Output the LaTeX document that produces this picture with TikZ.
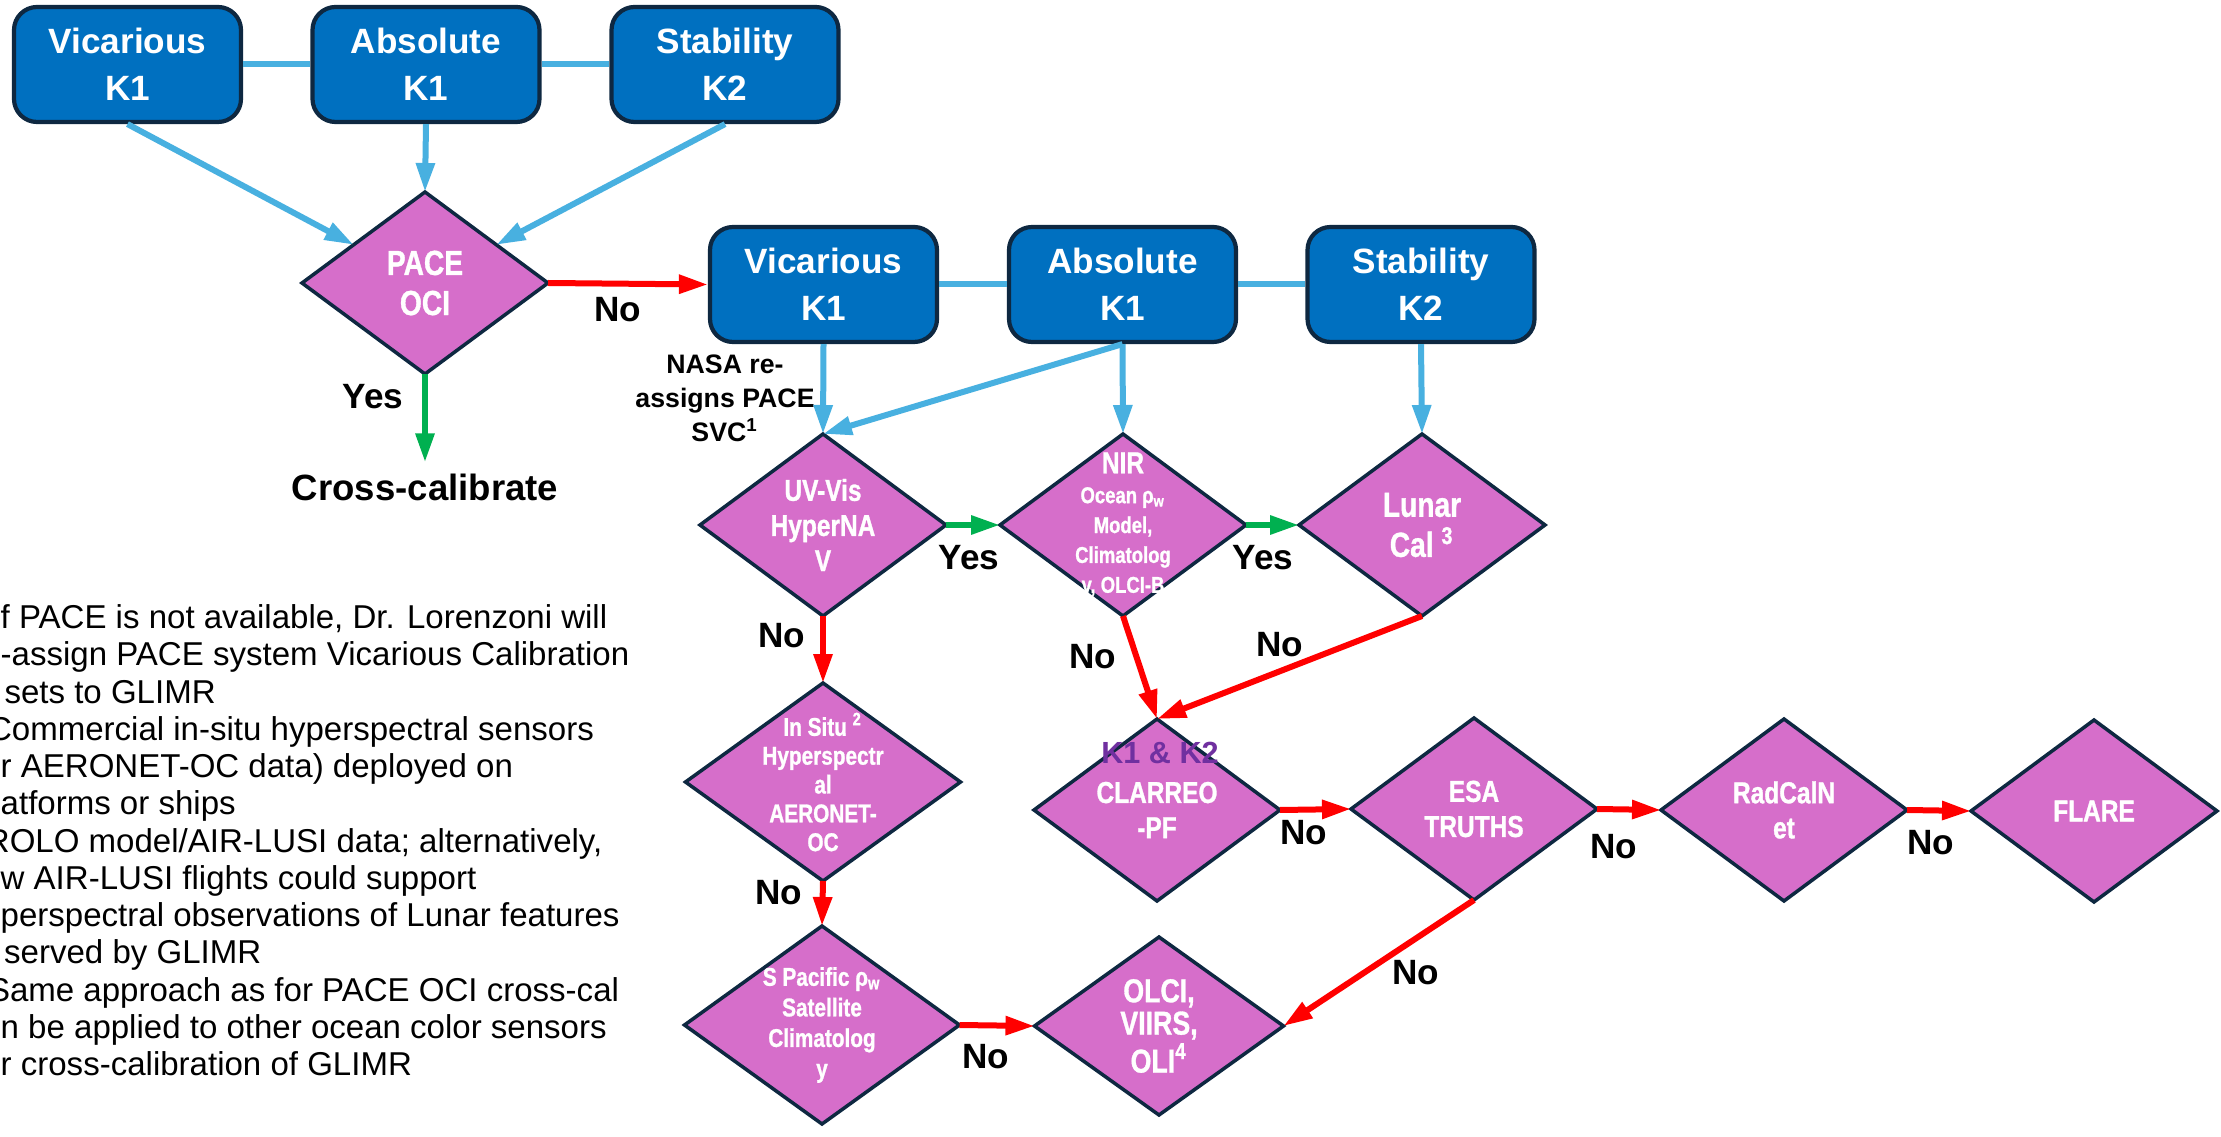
\documentclass[tikz,border=0pt]{standalone}
\usepackage{fontspec}
\setmainfont{Liberation Sans}
\newfontfamily\diafont[FakeStretch=0.81, FakeBold=1]{Liberation Sans}
\usepackage{tikz}
\usetikzlibrary{shapes.geometric, arrows.meta, calc}
\definecolor{boxblue}{RGB}{0, 112, 192}
\definecolor{boxline}{RGB}{14, 40, 65}
\definecolor{checkcol}{RGB}{214, 110, 202}
\definecolor{linkcol}{RGB}{72, 176, 224}
\definecolor{nocol}{RGB}{255, 0, 0}
\definecolor{yescol}{RGB}{0, 176, 80}
\definecolor{kcol}{RGB}{112, 48, 160}
\newcommand{\diasize}[2]{\diafont\bfseries\fontsize{#1}{#2}\selectfont}

\begin{document}
\begin{tikzpicture}[
        x=0.1mm, y=-0.1mm,
        calbox/.style={rectangle, draw=boxline, line width=1.2pt, fill=boxblue, rounded corners=2.3mm, minimum width=22.7mm, minimum height=11.5mm, inner sep=0pt, text=white, align=center, font=\fontsize{10}{13.4}\selectfont\bfseries},
        check/.style={diamond, draw=boxline, line width=1pt, fill=checkcol, inner sep=0pt, outer sep=0pt, minimum width=24.6mm, minimum height=18.2mm},
        bigcheck/.style={check, minimum width=27.5mm, minimum height=19.8mm},
        dtext/.style={text=white, align=center, inner sep=0pt},
        lbl/.style={font=\fontsize{10}{12}\selectfont\bfseries, inner sep=0pt},
        arrow/.style={-{Triangle[length=2.9mm, width=1.8mm]}, line width=0.6mm},
        bluearrow/.style={arrow, linkcol},
        noarrow/.style={arrow, nocol},
        yesarrow/.style={arrow, yescol},
        tie/.style={linkcol, line width=0.6mm}
    ]
    \useasboundingbox (0,0) rectangle (2221,1137);
    \fill[white] (0,0) rectangle (2221,1137);

    % PACE row
    \node[calbox] (vicA) at (127.5,64.5) {Vicarious\\K1};
    \node[calbox] (absA) at (426,64.5) {Absolute\\K1};
    \node[calbox] (stabA) at (725,64.5) {Stability\\K2};
    \node[check, label={[dtext, font=\diasize{9.9}{11.4}]center:{PACE\\OCI}}] (pace) at (425,283) {};
    \node[lbl, font=\fontsize{10.4}{12}\selectfont\bfseries, inner sep=3pt] (cross) at (425,487) {Cross-calibrate};

    % GLIMR row
    \node[calbox] (vicB) at (823.5,284.5) {Vicarious\\K1};
    \node[calbox] (absB) at (1122.5,284.5) {Absolute\\K1};
    \node[calbox] (stabB) at (1421,284.5) {Stability\\K2};
    \node[font=\fontsize{7.6}{9.7}\selectfont\bfseries, align=center, inner sep=0pt] (nasa) at (725,398) {NASA re-\\assigns PACE\\SVC\textsuperscript{1}};

    % Checks
    \node[check, label={[dtext, font=\diasize{8.6}{10}]center:{UV-Vis\\HyperNA\\V}}] (uvvis) at (823,525) {};
    \node[check, label={[dtext, font=\diasize{6.5}{8.5}]center:{{\diasize{8.6}{8.5}NIR}\\Ocean ρ\textsubscript{w}\\Model,\\Climatolog\\y, OLCI-B}}] (nir) at (1123,525) {};
    \node[check, label={[dtext, font=\diasize{9.9}{11.4}]center:{Lunar\\Cal \textsuperscript{3}}}] (lunar) at (1422,525) {};
    \node[bigcheck, label={[dtext, font=\diasize{7.3}{8.2}]center:{In Situ \textsuperscript{2}\\Hyperspectr\\al\\AERONET-\\OC}}] (insitu) at (823,782) {};
    \node[bigcheck, label={[dtext, font=\diasize{7.3}{8.7}]center:{S Pacific ρ\textsubscript{w}\\Satellite\\Climatolog\\y}}] (spac) at (822,1025) {};
    \node[check, label={[dtext, font=\diasize{8.6}{10}]center:{CLARREO\\-PF}}] (clarreo) at (1157,810) {};
    \node[font=\fontsize{8.7}{10}\selectfont\bfseries, text=kcol, inner sep=0pt] (kboth) at (1160,753) {K1 \& K2};
    \node[check, label={[dtext, font=\diasize{8.6}{10}]center:{ESA\\TRUTHS}}] (esa) at (1474,809) {};
    \node[check, label={[dtext, font=\diasize{8.6}{10}]center:{RadCalN\\et}}] (radcal) at (1784,810) {};
    \node[check, label={[dtext, font=\diasize{8.6}{10}]center:{FLARE}}] (flare) at (2094,811) {};
    \node[check, minimum width=24.9mm, minimum height=17.8mm, label={[dtext, font=\diasize{9.4}{9.2}]center:{OLCI,\\VIIRS,\\OLI\textsuperscript{4}}}] (olci) at (1159,1026) {};

    % Notes
    \node[anchor=north west, inner sep=0pt, align=left, font=\fontsize{9.4}{10.6}\selectfont] (notes) at (0,604) {f PACE is not available, Dr. Lorenzoni will\\
        -assign PACE system Vicarious Calibration\\
        \hspace*{1.1pt}sets to GLIMR\\
        \hspace*{-3.6pt}Commercial in-situ hyperspectral sensors\\
        r AERONET-OC data) deployed on\\
        atforms or ships\\
        \hspace*{-4.2pt}ROLO model/AIR-LUSI data; alternatively,\\
        w AIR-LUSI flights could support\\
        perspectral observations of Lunar features\\
        \hspace*{1pt}served by GLIMR\\
        \hspace*{-3.6pt}Same approach as for PACE OCI cross-cal\\
        n be applied to other ocean color sensors\\
        r cross-calibration of GLIMR};

    % Labels
    \node[lbl] (noPace) at (618,310) {No};
    \node[lbl] (yesPace) at (373,397) {Yes};
    \node[lbl] (yesUV) at (969,558) {Yes};
    \node[lbl] (yesNIR) at (1263,558) {Yes};
    \node[lbl] (noUV) at (782,636) {No};
    \node[lbl] (noNIR) at (1093,657) {No};
    \node[lbl] (noLunar) at (1280,645) {No};
    \node[lbl] (noInSitu) at (779,893) {No};
    \node[lbl] (noClar) at (1304,833) {No};
    \node[lbl] (noEsa) at (1614,847) {No};
    \node[lbl] (noRad) at (1931,843) {No};
    \node[lbl] (noEsaDown) at (1416,973) {No};
    \node[lbl] (noSpac) at (986,1057) {No};

    % Arrows
    \draw[tie] (vicA) -- (absA);
    \draw[tie] (absA) -- (stabA);
    \draw[tie] (vicB) -- (absB);
    \draw[tie] (absB) -- (stabB);

    \draw[bluearrow] (vicA.south) -- ($(pace.west)!0.42!(pace.north)$);
    \draw[bluearrow] (absA.south) -- (pace.north);
    \draw[bluearrow] (stabA.south) -- ($(pace.east)!0.42!(pace.north)$);
    \draw[noarrow] (pace.east) -- (vicB.west);
    \draw[yesarrow] (pace.south) -- (cross.north);

    \draw[bluearrow] (vicB.south) -- (uvvis.north);
    \draw[bluearrow] (absB.south) -- (uvvis.north);
    \draw[bluearrow] (absB.south) -- (nir.north);
    \draw[bluearrow] (stabB.south) -- (lunar.north);

    \draw[yesarrow] (uvvis.east) -- (nir.west);
    \draw[yesarrow] (nir.east) -- (lunar.west);

    \draw[noarrow] (uvvis.south) -- (insitu.north);
    \draw[noarrow] (insitu.south) -- (spac.north);
    \draw[noarrow] (spac.east) -- (olci.west);
    \draw[noarrow] (nir.south) -- (clarreo.north);
    \draw[noarrow] (lunar.south) -- (clarreo.north);
    \draw[noarrow] (clarreo.east) -- (esa.west);
    \draw[noarrow] (esa.east) -- (radcal.west);
    \draw[noarrow] (radcal.east) -- (flare.west);
    \draw[noarrow] (esa.south) -- (olci.east);

\end{tikzpicture}
\end{document}
